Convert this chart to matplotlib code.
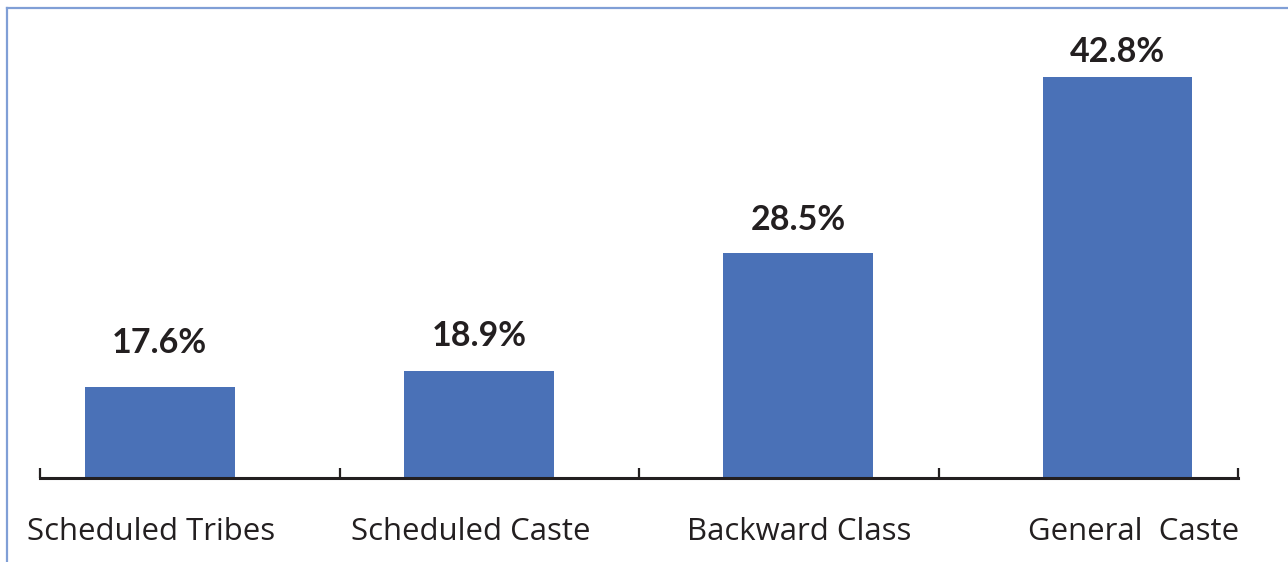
import matplotlib
matplotlib.use("Agg")
import matplotlib.pyplot as plt
from matplotlib.lines import Line2D

categories = ["Scheduled Tribes", "Scheduled Caste", "Backward Class", "General  Caste"]
shares = [17.6, 18.9, 28.5, 42.8]

barColor = "#4a71b7"
inkColor = "#231f20"
frameColor = "#809fd6"

plt.rcParams["font.family"] = ["Lato", "DejaVu Sans"]

W, H = 1288, 562
fig = plt.figure(figsize=(W / 100, H / 100), dpi=100)
ax = fig.add_axes([40 / W, (H - 478) / H, (1238 - 40) / W, (478 - 8) / H])

# bars sit on a slightly wider pitch than the tick slots
xPos = [0.40 + 1.066 * i for i in range(len(categories))]
ax.bar(xPos, shares, width=0.5, bottom=0, color=barColor, zorder=2)

ax.set_xlim(0, 4)
ax.set_ylim(10.2, 10.2 + 470 / 12.29)

# hand-tuned gaps (points) between bar tops and value labels, and label nudges
valueGap = [24.5, 18.0, 16.8, 10.8]
nameNudge = [-6, -6, 0.7, 11.5]

for x, v, name, gap, dx in zip(xPos, shares, categories, valueGap, nameNudge):
    ax.annotate(f"{v}%", xy=(x, v), xytext=(0, gap), textcoords="offset points",
                ha="center", va="baseline", fontsize=24.5, fontweight="bold",
                color=inkColor)
    ax.annotate(name, xy=(x, 10.2), xytext=(dx, -45.0), textcoords="offset points",
                ha="center", va="baseline", fontsize=22.4, color=inkColor,
                family=["Open Sans", "DejaVu Sans"], annotation_clip=False)

for side in ["top", "right", "left"]:
    ax.spines[side].set_visible(False)
ax.spines["bottom"].set_linewidth(2.2)
ax.spines["bottom"].set_color(inkColor)
ax.set_xticks([0, 1, 2, 3, 4])
ax.set_xticklabels([])
ax.set_yticks([])
ax.tick_params(axis="x", direction="in", length=7, width=1.6, color=inkColor)

# thin frame along the top and left edges
fig.add_artist(Line2D([7 / W, 1], [1 - 8 / H, 1 - 8 / H], color=frameColor, lw=1.6))
fig.add_artist(Line2D([7 / W, 7 / W], [0, 1 - 8 / H], color=frameColor, lw=1.6))

fig.savefig("out.png", dpi=100)
